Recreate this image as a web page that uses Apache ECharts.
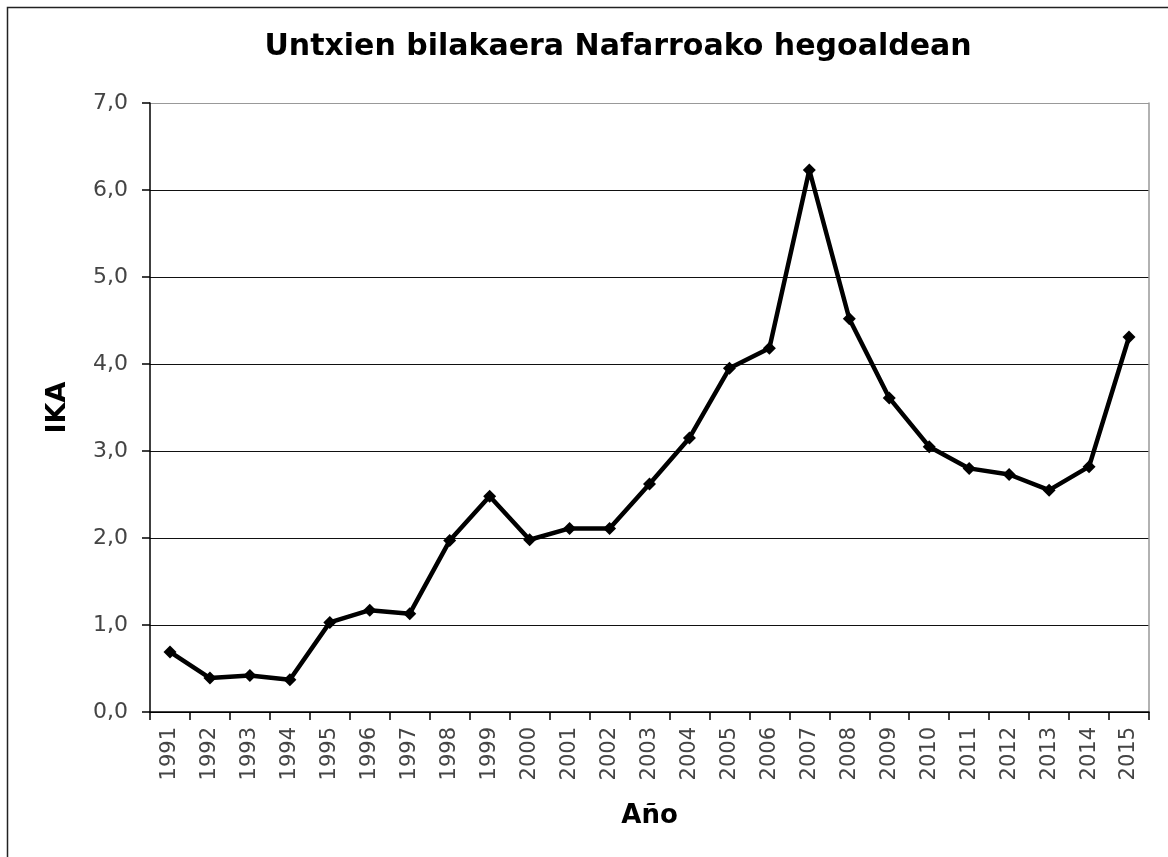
<!DOCTYPE html>
<html>
<head>
<meta charset="utf-8">
<script src="https://cdn.jsdelivr.net/npm/echarts@6/dist/echarts.min.js"></script>
<style>
  html, body { margin: 0; padding: 0; background: #fff; }
  #chart { width: 1168px; height: 857px; }
</style>
</head>
<body>
<div id="chart"></div>
<script>
// years on the x axis
const years = ['1991', '1992', '1993', '1994', '1995', '1996', '1997', '1998', '1999', '2000',
  '2001', '2002', '2003', '2004', '2005', '2006', '2007', '2008', '2009', '2010',
  '2011', '2012', '2013', '2014', '2015']
// IKA values
const ika = [0.69, 0.39, 0.42, 0.37, 1.03, 1.17, 1.13, 1.97, 2.48, 1.98,
  2.11, 2.11, 2.62, 3.15, 3.95, 4.18, 6.23, 4.52, 3.61, 3.05,
  2.80, 2.73, 2.55, 2.82, 4.31]

const chart = echarts.init(document.getElementById('chart'))

const fmt = v => v.toFixed(1).replace('.', ',')
const font = 'DejaVu Sans'

chart.setOption({
  animation: false,
  backgroundColor: '#fff',
  title: {
    text: 'Untxien bilakaera Nafarroako hegoaldean',
    left: 613,
    top: 27,
    textAlign: 'center',
    textStyle: { fontFamily: font, fontSize: 30, fontWeight: 'bold', color: '#000' }
  },
  graphic: [{
    type: 'rect',
    shape: { x: 7.5, y: 7.5, width: 1200, height: 900 },
    style: { fill: 'none', stroke: '#222', lineWidth: 1.5 },
    silent: true
  }],
  grid: { left: 150, right: 19, top: 103, bottom: 145 },
  xAxis: {
    type: 'category',
    data: years,
    boundaryGap: true,
    name: 'Año',
    nameLocation: 'middle',
    nameGap: 91,
    nameTextStyle: { fontFamily: font, fontSize: 26, fontWeight: 'bold', color: '#000' },
    axisLine: { lineStyle: { color: '#000', width: 1.5 } },
    axisTick: { show: true, length: 8, interval: 0, lineStyle: { color: '#000', width: 1.5 } },
    axisLabel: { interval: 0, rotate: 90, margin: 15, fontFamily: font, fontSize: 21, color: '#444' },
    splitLine: { show: false }
  },
  yAxis: [{
    type: 'value',
    min: 0,
    max: 7,
    interval: 1,
    name: 'IKA',
    nameLocation: 'middle',
    nameRotate: 90,
    nameGap: 79,
    nameTextStyle: { fontFamily: font, fontSize: 27, fontWeight: 'bold', color: '#000' },
    axisLine: { show: true, lineStyle: { color: '#000', width: 1.5 } },
    axisTick: { show: true, length: 8, lineStyle: { color: '#000', width: 1.5 } },
    axisLabel: { margin: 22, formatter: fmt, fontFamily: font, fontSize: 22, color: '#444' },
    splitLine: {
      show: true,
      lineStyle: { color: ['#000', '#111', '#111', '#111', '#111', '#111', '#111', '#999'], width: 1.2 }
    }
  }, {
    type: 'value',
    min: 0,
    max: 7,
    interval: 1,
    position: 'right',
    axisLine: { show: true, lineStyle: { color: '#999', width: 1.5 } },
    axisTick: { show: false },
    axisLabel: { show: false },
    splitLine: { show: false }
  }],
  series: [{
    type: 'line',
    data: ika,
    symbol: 'diamond',
    symbolSize: 13,
    lineStyle: { color: '#000', width: 4.5 },
    itemStyle: { color: '#000' }
  }]
})
</script>
</body>
</html>
